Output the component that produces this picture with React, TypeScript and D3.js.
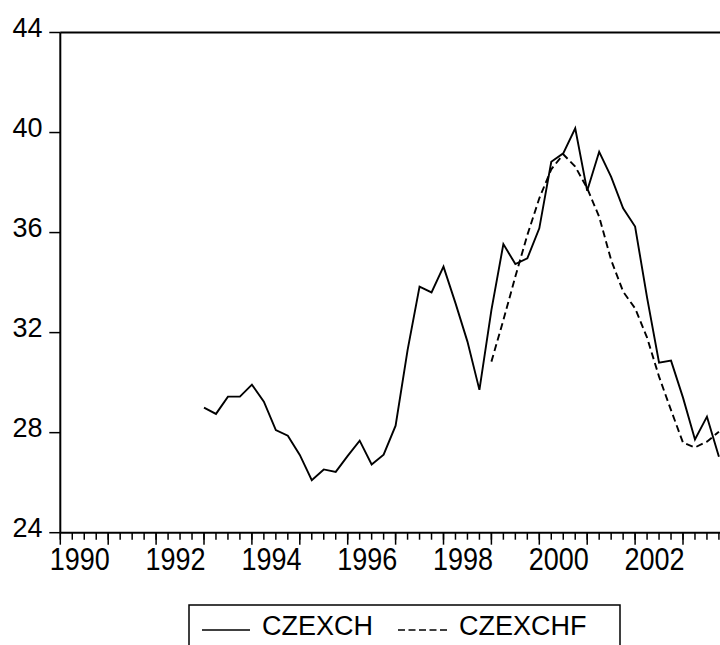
import React from "react";
import * as d3 from "d3";

// Quarterly data; first observation of CZEXCH is 1993Q1, CZEXCHF starts 1999Q1
const czexchStart = 1993;
const czexch = [
  29.0, 28.75, 29.44, 29.44, 29.92, 29.24, 28.1, 27.88, 27.11, 26.1, 26.53, 26.43,
  27.07, 27.68, 26.73, 27.12, 28.28, 31.3, 33.84, 33.61, 34.64, 33.18, 31.64, 29.71,
  32.9, 35.54, 34.74, 34.97, 36.17, 38.83, 39.17, 40.17, 37.67, 39.23, 38.23, 36.97,
  36.24, 33.4, 30.8, 30.88, 29.4, 27.73, 28.64, 27.04,
];
const czexchfStart = 1999;
const czexchf = [
  30.84, 32.5, 34.24, 35.9, 37.37, 38.53, 39.13, 38.64, 37.77, 36.63, 34.9, 33.64,
  32.97, 31.8, 30.24, 28.9, 27.6, 27.41, 27.64, 28.04,
];
const yTicks = [24, 28, 32, 36, 40, 44];
const xLabelYears = [1990, 1992, 1994, 1996, 1998, 2000, 2002];
const seriesNames = ["CZEXCH", "CZEXCHF"];

const W = 720;
const H = 645;
const FONT = "'Liberation Sans', Arial, sans-serif";

export default function App() {
  const x = d3.scaleLinear().domain([1990, 2004]).range([60.3, 60.3 + 14 * 47.9]);
  const y = d3.scaleLinear().domain([24, 44]).range([532.7, 32.5]);

  const toPts = (start: number, vals: number[]) =>
    vals.map((v, i) => ({ t: start + i / 4, v }));

  const line = d3
    .line<{ t: number; v: number }>()
    .x((d) => x(d.t))
    .y((d) => y(d.v));

  const quarters = d3.range(1990, 2004.01, 0.25).filter((t) => x(t) <= W + 1);
  const years = d3.range(1990, 2005).filter((t) => x(t) <= W + 1);

  const x0 = x(1990);
  const yb = y(24);
  const yt = y(44);

  return (
    <svg
      width={W}
      height={H}
      style={{ position: "absolute", left: 0, top: 0, background: "#fff" }}
      fontFamily={FONT}
    >
      <rect x={0} y={0} width={W} height={H} fill="#fff" />
      {/* frame */}
      <line x1={x0} x2={x(2004)} y1={yt} y2={yt} stroke="#000" strokeWidth={2} />
      <line x1={x0} x2={x(2004)} y1={yb} y2={yb} stroke="#000" strokeWidth={2} />
      <line x1={x0} x2={x0} y1={yt} y2={yb} stroke="#000" strokeWidth={2} />

      {/* y ticks */}
      {yTicks.map((v) => (
        <g key={v}>
          <line x1={x0 - 11} x2={x0} y1={y(v)} y2={y(v)} stroke="#000" strokeWidth={1.5} />
          <text x={42.5} y={y(v) + 4} textAnchor="end" fontSize={27} fill="#000">
            {v}
          </text>
        </g>
      ))}

      {/* x ticks */}
      {quarters.map((t) => (
        <line
          key={"q" + t}
          x1={x(t)}
          x2={x(t)}
          y1={yb}
          y2={yb + 7}
          stroke="#000"
          strokeWidth={1.5}
        />
      ))}
      {years.map((t) => (
        <line
          key={"y" + t}
          x1={x(t)}
          x2={x(t)}
          y1={yb}
          y2={yb + 12}
          stroke="#000"
          strokeWidth={1.5}
        />
      ))}
      {xLabelYears.map((t) => (
        <text
          key={"l" + t}
          transform={`translate(${x(t) + 19.5},570) scale(1,1.18)`}
          textAnchor="middle"
          fontSize={27}
          fill="#000"
        >
          {t}
        </text>
      ))}

      {/* series */}
      <path
        d={line(toPts(czexchStart, czexch)) || ""}
        fill="none"
        stroke="#000"
        strokeWidth={1.9}
        strokeLinejoin="miter"
      />
      <path
        d={line(toPts(czexchfStart, czexchf)) || ""}
        fill="none"
        stroke="#000"
        strokeWidth={1.9}
        strokeDasharray="7,4"
      />

      {/* legend */}
      <rect x={189} y={605} width={431} height={60} fill="none" stroke="#000" strokeWidth={1.5} />
      <line x1={202} x2={250} y1={630} y2={630} stroke="#000" strokeWidth={1.5} />
      <text x={262} y={635} fontSize={27} fill="#000">
        {seriesNames[0]}
      </text>
      <line
        x1={398}
        x2={447}
        y1={630}
        y2={630}
        stroke="#000"
        strokeWidth={1.5}
        strokeDasharray="7,3.5"
      />
      <text x={459} y={635} fontSize={27} fill="#000">
        {seriesNames[1]}
      </text>
    </svg>
  );
}
